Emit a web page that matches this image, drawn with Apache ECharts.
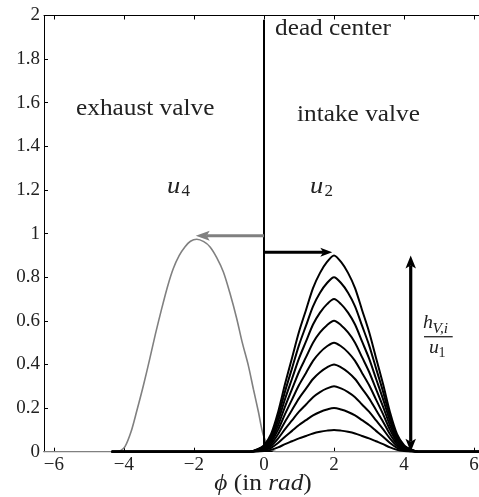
<!DOCTYPE html>
<html>
<head>
<meta charset="utf-8">
<script src="https://cdn.jsdelivr.net/npm/echarts@6/dist/echarts.min.js"></script>
<style>
  html, body { margin: 0; padding: 0; background: #fff; }
  #chart { width: 479px; height: 497px; }
</style>
</head>
<body>
<div id="chart"></div>
<script>
// crank angle ticks (rad)
const xTicks = [-6, -4, -2, 0, 2, 4, 6];

// intake valve lift for the largest opening, sampled along phi
const intakePhi = [-4.35, -0.4, -0.2, 0, 0.2, 0.4, 0.6, 0.8, 1.0, 1.2, 1.4, 1.6, 1.8, 2.0,
                   2.2, 2.4, 2.6, 2.8, 3.0, 3.2, 3.4, 3.6, 3.8, 4.0, 4.2, 4.4, 6.4];
const intakeTop = [0, 0, 0.01, 0.03, 0.08, 0.18, 0.31, 0.43, 0.55, 0.65, 0.75, 0.82, 0.87, 0.90,
                   0.87, 0.82, 0.75, 0.65, 0.55, 0.43, 0.31, 0.18, 0.08, 0.03, 0.01, 0, 0];
// peak heights h_V,i / u1 of the intake family
const intakePeaks = [0.9, 0.8, 0.7, 0.6, 0.5, 0.4, 0.3, 0.2, 0.1];

// exhaust valve lift
const exhaustPhi = [-6.3, -4.3, -4.1, -3.97, -3.8, -3.64, -3.45, -3.26, -3.1, -2.92, -2.75,
                    -2.59, -2.42, -2.26, -2.1, -1.92, -1.72, -1.54, -1.35, -1.16, -0.97,
                    -0.78, -0.62, -0.45, -0.3, -0.16, -0.02, 0.15, 0.35, 6.4];
const exhaustLift = [0, 0, 0.005, 0.023, 0.09, 0.183, 0.30, 0.428, 0.54, 0.657, 0.76,
                     0.84, 0.90, 0.939, 0.965, 0.974, 0.963, 0.939, 0.89, 0.824, 0.725,
                     0.611, 0.50, 0.397, 0.285, 0.183, 0.076, 0.02, 0, 0];

// dead center marker
const deadCenterPhi = [0, 0];
const deadCenterY = [0, 1.98];

// arrows: [phi start, y start, phi end, y end]
const exhaustArrow = [0, 0.99, -1.95, 0.99];
const intakeArrow = [0, 0.915, 1.95, 0.915];
const liftArrow = [4.19, 0, 4.19, 0.9];

const serif = '"Liberation Serif", "Times New Roman", "DejaVu Serif", serif';
const TEXT = '#222';
const GRAY = '#808080';
const minus = v => (v < 0 ? '\u2212' + Math.abs(v) : String(v));

function pairs(xs, ys, k) {
  return xs.map((x, i) => [x, ys[i] * (k === undefined ? 1 : k)]);
}

// straight arrow with notched head(s), placed through the axis scales
function arrowSeries(seg, color, width, both, head) {
  return {
    type: 'custom',
    coordinateSystem: 'cartesian2d',
    silent: true,
    clip: false,
    z: 6,
    encode: { x: [0, 2], y: [1, 3] },
    data: [seg],
    renderItem: function (params, api) {
      const a = api.coord([api.value(0), api.value(1)]);
      const b = api.coord([api.value(2), api.value(3)]);
      const dx = b[0] - a[0], dy = b[1] - a[1];
      const len = Math.hypot(dx, dy);
      const ux = dx / len, uy = dy / len;
      const nx = -uy, ny = ux;
      const L = head[0], W = head[1] / 2, notch = head[2];
      function headAt(tip, sx, sy) {
        const bx = tip[0] - sx * L, by = tip[1] - sy * L;
        const mx = tip[0] - sx * (L - notch), my = tip[1] - sy * (L - notch);
        return {
          type: 'polygon',
          shape: { points: [[tip[0], tip[1]], [bx + nx * W, by + ny * W], [mx, my], [bx - nx * W, by - ny * W]] },
          style: { fill: color }
        };
      }
      const cut = L - notch;
      const s = both ? [a[0] + ux * cut, a[1] + uy * cut] : a;
      const e = [b[0] - ux * cut, b[1] - uy * cut];
      const children = [{
        type: 'line',
        shape: { x1: s[0], y1: s[1], x2: e[0], y2: e[1] },
        style: { stroke: color, lineWidth: width }
      }, headAt(b, ux, uy)];
      if (both) children.push(headAt(a, -ux, -uy));
      return { type: 'group', children: children };
    }
  };
}

function txt(x, y, text, size, opts) {
  opts = opts || {};
  return {
    type: 'text', x: x, y: y, scaleX: opts.scaleX || 1, z: 10, silent: true,
    style: {
      text: text, fill: TEXT,
      fontFamily: serif, fontSize: size, fontStyle: opts.italic ? 'italic' : 'normal',
      align: opts.align || 'left', verticalAlign: 'middle',
      textAlign: opts.align || 'left', textVerticalAlign: 'middle',
      rich: opts.rich
    }
  };
}

const chart = echarts.init(document.getElementById('chart'), null, { renderer: 'canvas' });

const series = [];
series.push({
  type: 'line', data: pairs(exhaustPhi, exhaustLift), showSymbol: false, smooth: 0.3,
  lineStyle: { color: GRAY, width: 1.6 }, z: 2, silent: true
});
intakePeaks.forEach(function (p) {
  series.push({
    type: 'line', data: pairs(intakePhi, intakeTop, p / intakePeaks[0]), showSymbol: false, smooth: 0.3,
    lineStyle: { color: '#000', width: 2 }, z: 3, silent: true
  });
});
series.push({
  type: 'line', data: pairs(deadCenterPhi, deadCenterY), showSymbol: false,
  lineStyle: { color: '#000', width: 2 }, z: 4, silent: true
});
series.push(arrowSeries(exhaustArrow, GRAY, 3, false, [14, 10, 3]));
series.push(arrowSeries(intakeArrow, '#000', 3, false, [12, 9, 3]));
series.push(arrowSeries(liftArrow, '#000', 3.2, true, [13, 10.5, 3]));

const axisTextStyle = { fontFamily: serif, fontSize: 19, color: TEXT };

chart.setOption({
  animation: false,
  backgroundColor: '#fff',
  // plot box runs a little past the right edge of the canvas
  grid: { left: 44, top: 15.5, width: 440, bottom: 45.3, outerBoundsMode: 'none', containLabel: false },
  xAxis: [{
    type: 'value', min: -2 * Math.PI, max: 2 * Math.PI, position: 'bottom',
    axisLine: { show: true, onZero: false, lineStyle: { color: '#000', width: 1 } },
    axisTick: { show: true, inside: true, length: 4, customValues: xTicks, lineStyle: { color: '#000' } },
    axisLabel: Object.assign({ customValues: xTicks, margin: 4, formatter: minus }, axisTextStyle),
    splitLine: { show: false }
  }, {
    type: 'value', min: -2 * Math.PI, max: 2 * Math.PI, position: 'top',
    axisLine: { show: true, onZero: false, lineStyle: { color: '#000', width: 1 } },
    axisTick: { show: true, inside: true, length: 4, customValues: xTicks, lineStyle: { color: '#000' } },
    axisLabel: { show: false },
    splitLine: { show: false }
  }],
  yAxis: {
    type: 'value', min: 0, max: 2, interval: 0.2,
    axisLine: { show: true, onZero: false, lineStyle: { color: '#000', width: 1 } },
    axisTick: { show: true, inside: true, length: 4, lineStyle: { color: '#000' } },
    axisLabel: Object.assign({ margin: 4, formatter: v => String(Math.round(v * 10) / 10) }, axisTextStyle),
    splitLine: { show: false }
  },
  series: series,
  graphic: [
    txt(275, 28.5, 'dead center', 23, { scaleX: 1.1 }),
    txt(76, 109, 'exhaust valve', 23, { scaleX: 1.1 }),
    txt(297, 114.5, 'intake valve', 23, { scaleX: 1.1 }),
    txt(167, 186.5, 'u', 23, { italic: true, scaleX: 1.15 }),
    txt(181.5, 191.5, '4', 17),
    txt(310, 186.5, 'u', 23, { italic: true, scaleX: 1.15 }),
    txt(324.5, 191.5, '2', 17),
    txt(423, 323, 'h', 18, { italic: true, scaleX: 1.1 }),
    txt(432.5, 329.5, 'V,i', 14, { italic: true, scaleX: 1.1 }),
    {
      type: 'line', silent: true, z: 10,
      shape: { x1: 424, y1: 336.7, x2: 452.7, y2: 336.7 },
      style: { stroke: '#333', lineWidth: 1.4 }
    },
    txt(429, 348.5, 'u', 18, { italic: true, scaleX: 1.1 }),
    txt(438.5, 353, '1', 14),
    txt(263, 484, '{i|\u03D5} (in {i|rad})', 23, {
      align: 'center', scaleX: 1.1,
      rich: { i: { fontStyle: 'italic', fontFamily: serif, fontSize: 23, fill: TEXT } }
    })
  ]
});
</script>
</body>
</html>
